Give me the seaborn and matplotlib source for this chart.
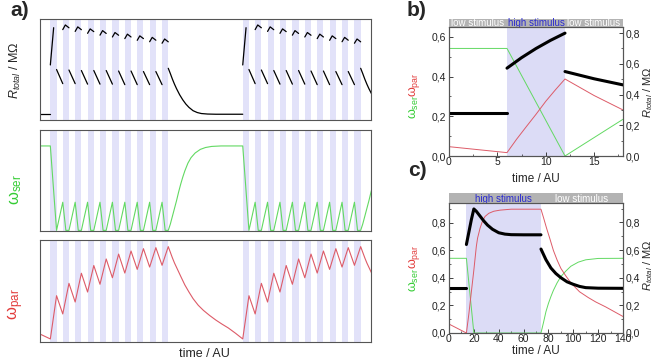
import matplotlib
matplotlib.use("Agg")
import matplotlib.pyplot as plt
import seaborn as sns
import pandas as pd
from matplotlib.ticker import FuncFormatter, MultipleLocator

# ---------------- panel a: pulse trains (time in AU) ----------------
train_starts = [10, 196]
n_pulses = 10
period = 12
pulse_len = 6
t_max_a = 320

# R_total, arbitrary units (fraction of axis height)
r_rest = 0.057
r_first_t = [0, 3.2]
r_first = [0.545, 0.914]
hook_t = [0, 2.5, 6]
r_hook_start = [0.895, 0.877, 0.858, 0.840, 0.822, 0.806, 0.789, 0.775, 0.760]
r_hook_peak = [0.941, 0.922, 0.902, 0.885, 0.866, 0.850, 0.833, 0.818, 0.802]
r_hook_end = [0.913, 0.894, 0.875, 0.857, 0.839, 0.822, 0.806, 0.790, 0.774]
r_off_start = [0.50, 0.495, 0.49, 0.49, 0.49, 0.485, 0.485, 0.48, 0.48]
r_off_end = [0.36, 0.36, 0.355, 0.355, 0.355, 0.35, 0.35, 0.35, 0.35]
r_decay_t = [0, 2, 4, 6, 8, 11, 14, 17, 20, 24, 28, 32, 38, 46, 72]
r_decay = [0.512, 0.46, 0.405, 0.355, 0.31, 0.25, 0.20, 0.158, 0.125, 0.092,
           0.074, 0.064, 0.059, 0.057, 0.057]

# omega_ser
ser_rest = 0.54
ser_peak = [0.18, 0.18, 0.18, 0.18, 0.18, 0.18, 0.18, 0.18, 0.18]
ser_fall = 3
ser_rec_t = [0, 2, 4, 6, 8, 10, 12, 14, 16, 19, 22, 26, 31, 36, 42, 51, 72]
ser_rec = [0, 0.04, 0.09, 0.14, 0.19, 0.245, 0.295, 0.34, 0.38, 0.43, 0.465,
           0.495, 0.518, 0.530, 0.537, 0.54, 0.54]

# omega_par (arbitrary units)
par_pre = [0.078, 0.03]
par_peak = [0.454, 0.575, 0.674, 0.750, 0.814, 0.862, 0.892, 0.915, 0.925, 0.935]
par_trough = [0.275, 0.392, 0.49, 0.566, 0.630, 0.676, 0.712, 0.735, 0.752]
par_decay_t = [0, 2, 4, 6, 9, 12, 16, 20, 24, 29, 34, 40, 46, 52, 58, 65, 72]
par_decay = [0.935, 0.88, 0.825, 0.775, 0.71, 0.645, 0.56, 0.49, 0.425, 0.36,
             0.31, 0.26, 0.215, 0.175, 0.138, 0.086, 0.03]

# ---------------- panel b ----------------
b_phase_edges = [0, 6, 12, 18]
b_phase_names = ["low stimulus", "high stimulus", "low stimulus"]
b_R_t = [[0, 6], [6, 7.5, 9, 10.5, 12], [12, 15, 18]]
b_R = [[0.282, 0.282], [0.572, 0.64, 0.70, 0.753, 0.80], [0.55, 0.503, 0.463]]
b_ser_t = [0, 6, 12, 18]
b_ser = [0.542, 0.542, 0.0, 0.185]
b_par_t = [0, 6, 7, 8, 9, 10, 11, 12, 15, 18]
b_par = [0.047, 0.017, 0.085, 0.148, 0.21, 0.275, 0.333, 0.388, 0.305, 0.232]

# ---------------- panel c ----------------
c_phase_edges = [0, 14, 74, 140]
c_phase_names = ["", "high stimulus", "low stimulus"]
c_R_t = [[0, 14],
         [14, 16, 18, 20, 22, 25, 28, 31, 35, 40, 45, 50, 60, 74],
         [74, 78, 82, 86, 90, 95, 100, 105, 110, 120, 140]]
c_R = [[0.323, 0.323],
       [0.64, 0.73, 0.82, 0.897, 0.88, 0.845, 0.81, 0.78, 0.75, 0.725, 0.715, 0.711, 0.71, 0.71],
       [0.607, 0.53, 0.47, 0.43, 0.40, 0.37, 0.352, 0.337, 0.328, 0.324, 0.323]]
c_ser_t = [0, 14, 20, 74, 76, 78, 80, 82, 84, 87, 90, 94, 98, 104, 110, 120, 140]
c_ser = [0.543, 0.543, 0, 0, 0.075, 0.155, 0.215, 0.265, 0.31, 0.365, 0.41,
         0.45, 0.485, 0.515, 0.532, 0.542, 0.543]
c_par_t = [0, 14, 16, 18, 20, 22, 23, 25, 27, 29, 32, 36, 41, 50, 74, 76, 78.5,
           81, 84, 87, 90, 94, 98, 105, 112, 118, 126, 133, 140]
c_par = [0.065, 0.0, 0.14, 0.30, 0.458, 0.63, 0.69, 0.762, 0.815, 0.847, 0.87,
         0.885, 0.893, 0.9, 0.9, 0.84, 0.762, 0.69, 0.60, 0.53, 0.47, 0.415,
         0.365, 0.30, 0.258, 0.226, 0.19, 0.155, 0.12]

# ---------------- styling ----------------
stripe = "#e2e2f9"
shade = "#dcdcf6"
green = "#62d962"
red = "#dd5b68"
green_lbl = "#33cc33"
red_lbl = "#e23b3b"
bar_gray = "#b3b3b3"
blue = "#2a2ad0"
frame = "#555555"

sns.set_style("ticks")
plt.rcParams["font.family"] = ["Liberation Sans", "DejaVu Sans"]
plt.rcParams["mathtext.fontset"] = "custom"
plt.rcParams["mathtext.rm"] = "Liberation Sans"
plt.rcParams["mathtext.it"] = "Liberation Sans:italic"

W, H = 659, 360
fig = plt.figure(figsize=(W / 100, H / 100), dpi=100)


def rect(x0, y0, x1, y1):
    return [x0 / W, 1 - y1 / H, (x1 - x0) / W, (y1 - y0) / H]


# ---- build panel a tables ----
r_rows = []
seg = 0
r_rows += [(seg, 0, r_rest), (seg, train_starts[0], r_rest)]
ser_t, ser_v = [0], [ser_rest]
par_t, par_v = [0], [par_pre[0]]
for t0 in train_starts:
    seg += 1
    r_rows += [(seg, t0 + x, v) for x, v in zip(r_first_t, r_first)]
    for k in range(1, n_pulses):
        seg += 1
        s = t0 + k * period
        vals = [r_hook_start[k - 1], r_hook_peak[k - 1], r_hook_end[k - 1]]
        r_rows += [(seg, s + x, v) for x, v in zip(hook_t, vals)]
    for k in range(n_pulses - 1):
        seg += 1
        s = t0 + k * period + pulse_len
        r_rows += [(seg, s, r_off_start[k]), (seg, s + period - pulse_len, r_off_end[k])]
    te = t0 + (n_pulses - 1) * period + pulse_len
    seg += 1
    r_rows += [(seg, te + x, v) for x, v in zip(r_decay_t, r_decay)]

    ser_t += [t0, t0 + pulse_len]
    ser_v += [ser_rest, 0]
    for k in range(1, n_pulses):
        s = t0 + k * period
        ser_t += [s, s + ser_fall, s + pulse_len]
        ser_v += [ser_peak[k - 1], 0, 0]
    ser_t += [te + x for x in ser_rec_t]
    ser_v += ser_rec

    par_t.append(t0)
    par_v.append(par_pre[1])
    for k in range(n_pulses):
        par_t.append(t0 + k * period + pulse_len)
        par_v.append(par_peak[k])
        if k < n_pulses - 1:
            par_t.append(t0 + (k + 1) * period)
            par_v.append(par_trough[k])
    par_t += [te + x for x in par_decay_t[1:]]
    par_v += par_decay[1:]

r_df = pd.DataFrame(r_rows, columns=["seg", "t", "v"])
ser_df = pd.DataFrame({"t": ser_t, "v": ser_v})
par_df = pd.DataFrame({"t": par_t, "v": par_v})

ax_r = fig.add_axes(rect(40, 19, 371, 120))
ax_s = fig.add_axes(rect(40, 130, 371, 231))
ax_p = fig.add_axes(rect(40, 240, 371, 342))

for ax in (ax_r, ax_s, ax_p):
    for t0 in train_starts:
        for k in range(n_pulses):
            ax.axvspan(t0 + k * period, t0 + k * period + pulse_len, color=stripe, lw=0, zorder=0)
    ax.set_xlim(0, t_max_a)
    ax.set_xticks([])
    ax.set_yticks([])
    for sp in ax.spines.values():
        sp.set_color(frame)
        sp.set_linewidth(0.8)

sns.lineplot(data=r_df, x="t", y="v", units="seg", estimator=None, sort=False,
             color="black", lw=0.9, ax=ax_r)
sns.lineplot(data=ser_df, x="t", y="v", estimator=None, sort=False,
             color=green, lw=0.8, ax=ax_s)
sns.lineplot(data=par_df, x="t", y="v", estimator=None, sort=False,
             color=red, lw=0.8, ax=ax_p)
ax_r.set_ylim(0, 1)
ax_s.set_ylim(-0.004, 0.642)
ax_p.set_ylim(0, 1)
for ax in (ax_r, ax_s, ax_p):
    ax.set_xlabel("")
    ax.set_ylabel("")

fig.text(15 / W, 1 - 70 / H, r"$R_{total}$ / M$\Omega$", rotation=90,
         ha="center", va="center", fontsize=9)
fig.text(16 / W, 1 - 189 / H, r"ω$_{\rm ser}$", rotation=90, ha="center",
         va="center", fontsize=12, color=green_lbl)
fig.text(16 / W, 1 - 304 / H, r"ω$_{\rm par}$", rotation=90, ha="center",
         va="center", fontsize=12, color=red_lbl)
fig.text(204 / W, 1 - 354 / H, "time / AU", ha="center", va="center", fontsize=9)
fig.text(20 / W, 1 - 10 / H, "a)", ha="center", va="center", fontsize=15, fontweight="bold")


# ---- panels b and c ----
comma = FuncFormatter(lambda v, p: f"{v:.1f}".replace(".", ","))


def side_panel(box, bar_box, edges, names, R_t, R, s_t, s, p_t, p,
               xmax, xstep, ylim_l, ylim_r, lstep, rstep):
    ax = fig.add_axes(rect(*box))
    axb = fig.add_axes(rect(*bar_box))
    axb.set_facecolor(bar_gray)
    axb.set_xlim(0, xmax)
    axb.set_ylim(0, 1)
    axb.set_xticks([])
    axb.set_yticks([])
    for sp in axb.spines.values():
        sp.set_visible(False)
    for i, name in enumerate(names):
        if not name:
            continue
        col = blue if name.startswith("high") else "white"
        axb.text((edges[i] + edges[i + 1]) / 2, 0.45, name, ha="center",
                 va="center", fontsize=7, color=col)
        if name.startswith("high"):
            ax.axvspan(edges[i], edges[i + 1], color=shade, lw=0, zorder=0)

    sns.lineplot(x=s_t, y=s, estimator=None, sort=False, color=green, lw=0.7, ax=ax)
    sns.lineplot(x=p_t, y=p, estimator=None, sort=False, color=red, lw=0.7, ax=ax)
    ax2 = ax.twinx()
    rdf = pd.DataFrame([(i, t, v) for i, (ts, vs) in enumerate(zip(R_t, R))
                        for t, v in zip(ts, vs)], columns=["seg", "t", "v"])
    sns.lineplot(data=rdf, x="t", y="v", units="seg", estimator=None, sort=False,
                 color="black", lw=2.2, ax=ax2)
    ax.set_xlim(0, xmax)
    ax.set_ylim(*ylim_l)
    ax2.set_ylim(*ylim_r)
    ax.set_xlabel("")
    ax.set_ylabel("")
    ax2.set_xlabel("")
    ax2.set_ylabel("")
    ax.xaxis.set_major_locator(MultipleLocator(xstep))
    ax.xaxis.set_minor_locator(MultipleLocator(xstep / 2))
    ax.yaxis.set_major_locator(MultipleLocator(lstep))
    ax.yaxis.set_minor_locator(MultipleLocator(lstep / 2))
    ax2.yaxis.set_major_locator(MultipleLocator(rstep))
    ax2.yaxis.set_minor_locator(MultipleLocator(rstep / 2))
    ax.yaxis.set_major_formatter(comma)
    ax2.yaxis.set_major_formatter(comma)
    for a in (ax, ax2):
        a.tick_params(which="major", direction="in", length=3, width=0.6,
                      labelsize=7.5, pad=2, colors="#222222")
        a.tick_params(which="minor", direction="in", length=1.6, width=0.5)
        for sp in a.spines.values():
            sp.set_color(frame)
            sp.set_linewidth(0.8)
    ax.tick_params(axis="x", pad=1)
    ax.tick_params(right=False, top=False, which="both")
    ax2.tick_params(top=False, which="both")
    return ax, ax2


side_panel((449, 27, 623, 156), (449, 18.5, 623, 27), b_phase_edges, b_phase_names,
           b_R_t, b_R, b_ser_t, b_ser, b_par_t, b_par, 18, 5, (0, 0.65), (0, 0.84), 0.2, 0.2)
side_panel((449, 203, 623, 333), (449, 193, 623, 203), c_phase_edges, c_phase_names,
           c_R_t, c_R, c_ser_t, c_ser, c_par_t, c_par, 140, 20, (0, 0.945), (0, 0.94), 0.2, 0.2)

for yc_s, yc_p, yc_r, yc_x, yc_l in ((107, 85, 92, 179, 11), (280, 257, 265, 351, 171)):
    fig.text(414 / W, 1 - yc_s / H, r"ω$_{\rm ser}$", rotation=90, ha="center",
             va="center", fontsize=9, color=green_lbl)
    fig.text(414 / W, 1 - yc_p / H, r"ω$_{\rm par}$", rotation=90, ha="center",
             va="center", fontsize=9, color=red_lbl)
    fig.text(648 / W, 1 - yc_r / H, r"$R_{total}$ / M$\Omega$", rotation=90,
             ha="center", va="center", fontsize=8)
    fig.text(536 / W, 1 - yc_x / H, "time / AU", ha="center", va="center", fontsize=8.5)
fig.text(417 / W, 1 - 11 / H, "b)", ha="center", va="center", fontsize=15, fontweight="bold")
fig.text(417 / W, 1 - 171 / H, "c)", ha="center", va="center", fontsize=15, fontweight="bold")

fig.savefig("out.png", dpi=100)
